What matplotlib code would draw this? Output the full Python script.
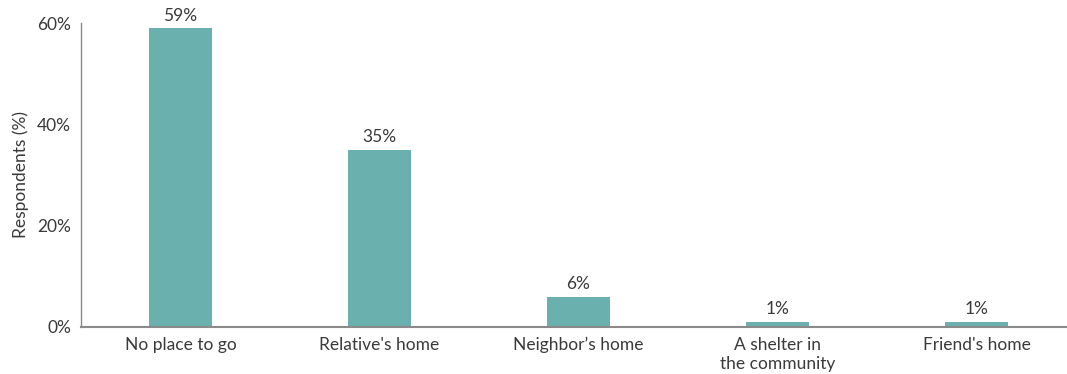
import matplotlib.pyplot as plt

plt.rcParams['font.family'] = ['Lato', 'DejaVu Sans']

categories = ["No place to go", "Relative's home", "Neighbor’s home",
              "A shelter in\nthe community", "Friend's home"]
shares = [59, 35, 6, 1, 1]
yticks = [0, 20, 40, 60]

bar_color = "#6ab0ae"
text_color = "#3a3a3a"
axis_color = "#8a8a8a"
fs = 12.5

fig = plt.figure(figsize=(10.67, 3.74), dpi=100)
ax = fig.add_axes([0.0759, 0.1257, 0.9241, 0.8128])

x = range(len(categories))
bars = ax.bar(x, shares, width=0.317, color=bar_color)

# value labels above each bar
for rect, v in zip(bars, shares):
    ax.text(rect.get_x() + rect.get_width() / 2, v + 0.9, f"{v}%",
            ha="center", va="bottom", fontsize=fs, color=text_color)

ax.set_xlim(-0.5, 4.455)
ax.set_ylim(0, 60)
ax.set_yticks(yticks)
ax.set_yticklabels([f"{t}%" for t in yticks])
ax.set_xticks(list(x))
ax.set_xticklabels(categories, linespacing=1.25)
ax.tick_params(axis="both", length=0, labelsize=fs, colors=text_color)
ax.tick_params(axis="y", pad=7)
ax.tick_params(axis="x", pad=7)

ax.set_ylabel("Respondents (%)", fontsize=fs, color=text_color, labelpad=6)

for side in ("top", "right"):
    ax.spines[side].set_visible(False)
ax.spines["left"].set_color(axis_color)
ax.spines["bottom"].set_color(axis_color)
ax.spines["left"].set_linewidth(1.0)
ax.spines["bottom"].set_linewidth(1.5)

fig.savefig("out.png", dpi=100)
